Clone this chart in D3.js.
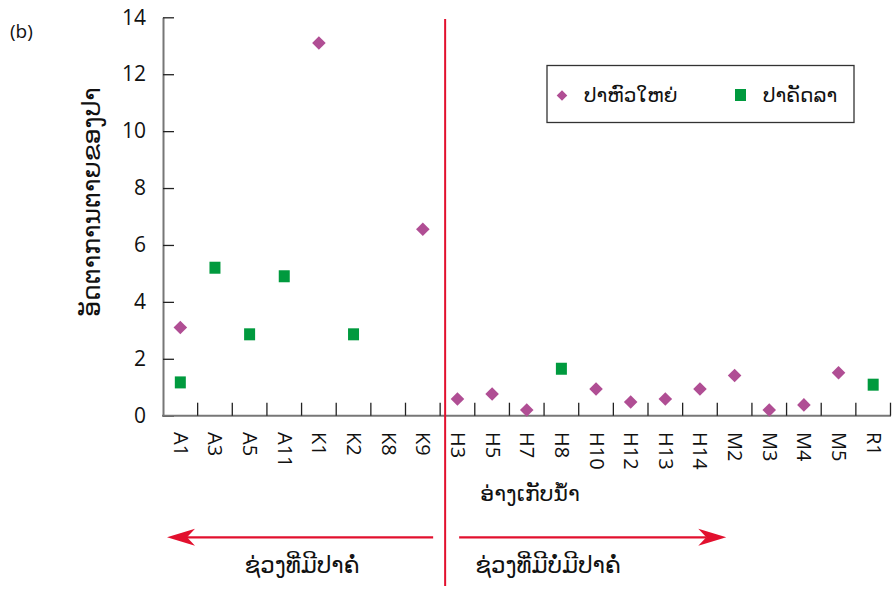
<!DOCTYPE html>
<html><head><meta charset="utf-8">
<script src="https://cdn.jsdelivr.net/npm/d3@7"></script>
<style>
body{margin:0;background:#fff;}
text{font-family:"Open Sans","Noto Sans","DejaVu Sans",sans-serif;fill:#111;}
</style></head>
<body><svg id="c" width="893" height="589"></svg>
<script>
const categories=["A1","A3","A5","A11","K1","K2","K8","K9","H3","H5","H7","H8","H10","H12","H13","H14","M2","M3","M4","M5","R1"];
const bigheadValues=[3.1,null,null,null,13.1,null,null,6.55,0.59,0.76,0.2,null,0.94,0.48,0.59,0.94,1.41,0.2,0.38,1.51,null];
const catlaValues=[1.17,5.2,2.86,4.9,null,2.86,null,null,null,null,null,1.65,null,null,null,null,null,null,null,null,1.09];
const yTicks=[0,2,4,6,8,10,12,14];
const seriesNames=["ປາຫົວໃຫຍ່","ປາຄັດລາ"];
const yTitle="ອັດຕາການຕາຍຂອງປາ";
const xTitle="ອ່າງເກັບນ້ຳ";
const leftLabel="ຊ່ວງທີ່ມີປາຄໍ່";
const rightLabel="ຊ່ວງທີ່ມີບໍ່ມີປາຄໍ່";

const svg=d3.select("#c");
const purple="#B04E94", green="#009A3E", red="#E2102E";
const x=d3.scaleBand().domain(categories).range([163,890.5]).padding(0);
const y=d3.scaleLinear().domain([0,14]).range([415.7,17.3]);

// y axis
const ya=svg.append("g").attr("transform","translate(163,0)")
 .call(d3.axisLeft(y).tickValues(yTicks).tickSizeInner(-11).tickSizeOuter(0).tickPadding(17));
ya.select(".domain").attr("stroke","#777").attr("stroke-width",2);
ya.selectAll(".tick line").attr("stroke","#222").attr("stroke-width",1.3);
ya.selectAll(".tick text").style("font-size","21px").attr("fill","#111");

// x axis
svg.append("line").attr("x1",162).attr("x2",891).attr("y1",y(0)).attr("y2",y(0)).attr("stroke","#777").attr("stroke-width",2);
svg.append("g").selectAll("line").data(categories).join("line")
 .attr("x1",d=>x(d)+x.bandwidth()).attr("x2",d=>x(d)+x.bandwidth())
 .attr("y1",y(0)).attr("y2",y(0)-13).attr("stroke","#222").attr("stroke-width",1.3);
svg.append("g").selectAll("text").data(categories).join("text")
 .attr("transform",d=>`translate(${x(d)+x.bandwidth()/2+1},432) rotate(90)`)
 .attr("dominant-baseline","central").style("font-size","20px").text(d=>d);

// titles
svg.append("text").attr("x",10).attr("y",38).style("font-size","19px").text("(b)");
svg.append("text").attr("transform","translate(90,202) rotate(-90)").attr("text-anchor","middle")
 .attr("dominant-baseline","central").style("font-size","25px").text(yTitle);
svg.append("text").attr("x",530).attr("y",501).attr("text-anchor","middle").style("font-size","22px").text(xTitle);

// red divider
const redX=x("H3")+5;
svg.append("line").attr("x1",redX).attr("x2",redX).attr("y1",19).attr("y2",586).attr("stroke",red).attr("stroke-width",2);

// arrows
function arrow(x1,x2,yy){
  svg.append("line").attr("x1",x1).attr("x2",x2+(x2>x1?-20:20)).attr("y1",yy).attr("y2",yy).attr("stroke",red).attr("stroke-width",2.2);
  const s=x2>x1?-1:1;
  svg.append("path").attr("d",`M${x2},${yy} L${x2+s*28},${yy-8.5} L${x2+s*20},${yy} L${x2+s*28},${yy+8.5} Z`).attr("fill",red);
}
arrow(redX-12,x("A1")+4,537.3);
arrow(redX+14,x("M2")+9,537.3);
svg.append("text").attr("x",302).attr("y",573).attr("text-anchor","middle").style("font-size","23px").text(leftLabel);
svg.append("text").attr("x",548).attr("y",573).attr("text-anchor","middle").style("font-size","23px").text(rightLabel);

// points
const diamond=d3.symbol().type(d3.symbolSquare).size(92);
svg.append("g").selectAll("path").data(categories.map((c,i)=>({c,v:bigheadValues[i]})).filter(d=>d.v!=null)).join("path")
 .attr("d",diamond).attr("transform",d=>`translate(${x(d.c)+x.bandwidth()/2},${y(d.v)}) rotate(45)`).attr("fill",purple);
svg.append("g").selectAll("rect").data(categories.map((c,i)=>({c,v:catlaValues[i]})).filter(d=>d.v!=null)).join("rect")
 .attr("x",d=>x(d.c)+x.bandwidth()/2-5.5).attr("y",d=>y(d.v)-6).attr("width",11).attr("height",12).attr("fill",green);

// legend
svg.append("rect").attr("x",547).attr("y",65.5).attr("width",307).attr("height",57).attr("fill","none").attr("stroke","#333").attr("stroke-width",1.3);
svg.append("path").attr("d",d3.symbol().type(d3.symbolSquare).size(56)).attr("transform","translate(562,95.5) rotate(45)").attr("fill",purple);
svg.append("text").attr("x",584).attr("y",102).style("font-size","20px").text(seriesNames[0]);
svg.append("rect").attr("x",735).attr("y",89).attr("width",11).attr("height",12).attr("fill",green);
svg.append("text").attr("x",763).attr("y",102).style("font-size","20px").text(seriesNames[1]);
</script></body></html>
